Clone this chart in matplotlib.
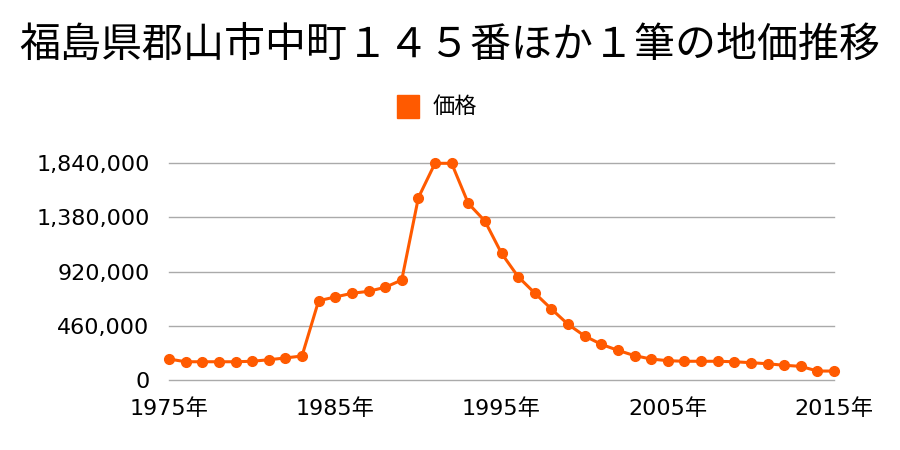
import matplotlib
matplotlib.use('Agg')
import matplotlib.pyplot as plt
from matplotlib.patches import Rectangle

plt.rcParams['font.family'] = ['Noto Sans CJK JP', 'DejaVu Sans']

# 地価データ (1975〜2015年)
years = list(range(1975, 2016))
prices = [
    178000, 155000, 155000, 155000, 155000, 159000, 172000, 187000, 204000, 673000,
    705000, 736000, 753000, 787000, 849000, 1548000, 1840000, 1840000, 1500000, 1350000,
    1076000, 877000, 738000, 603000, 473000, 374000, 303000, 252000, 207000, 178000,
    164000, 159000, 159000, 159000, 155000, 147000, 138000, 125000, 116000, 76000,
    76000,
]
y_ticks = [0, 460000, 920000, 1380000, 1840000]
x_ticks = [1975, 1985, 1995, 2005, 2015]

title = "福島県郡山市中町１４５番ほか１筆の地価推移"
series_name = "価格"
color = "#ff5a00"
tick_font = ['DejaVu Sans', 'Noto Sans CJK JP']

fig = plt.figure(figsize=(9, 4.5), dpi=100)
ax = fig.add_axes([169 / 900, 1 - 380 / 450, (834 - 169) / 900, (380 - 163.3) / 450])

ax.plot(years, prices, color=color, lw=2.2, marker='o', ms=7, clip_on=False, zorder=3)

ax.set_xlim(1975, 2015)
ax.set_ylim(0, 1840000)
ax.set_yticks(y_ticks)
ax.set_xticks(x_ticks)
ax.set_yticklabels([f"{v:,}" for v in y_ticks], family=tick_font, fontsize=16)
ax.set_xticklabels([f"{y}年" for y in x_ticks], family=tick_font, fontsize=16)
ax.grid(axis='y', color='#aaaaaa', lw=1)
for gl in ax.get_ygridlines():
    gl.set_clip_on(False)  # 0 と最大値の線が半分切れないように
ax.set_axisbelow(True)
for s in ax.spines.values():
    s.set_visible(False)
ax.tick_params(length=0, colors='black')
ax.tick_params(axis='y', pad=14)
ax.tick_params(axis='x', pad=13)

fig.text(0.5, 0.9, title, ha='center', va='center', fontsize=29.5)

# 凡例
fig.patches.append(Rectangle((397 / 900, 1 - 118 / 450), 22 / 900, 23 / 450,
                             transform=fig.transFigure, color=color))
fig.text(433 / 900, 1 - 106 / 450, series_name, ha='left', va='center', fontsize=16)

fig.savefig('out.png', dpi=100)
